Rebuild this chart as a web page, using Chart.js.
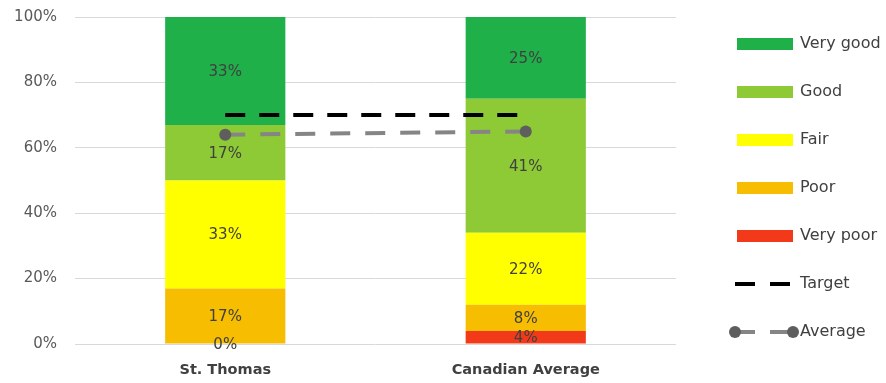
<!DOCTYPE html>
<html>
<head>
<meta charset="utf-8">
<script src="https://cdn.jsdelivr.net/npm/chart.js@4.4.1/dist/chart.umd.min.js"></script>
<style>
  html, body { margin: 0; padding: 0; background: #fff; }
  #wrap { width: 886px; height: 383px; }
</style>
</head>
<body>
<div id="wrap"><canvas id="ratingChart" width="886" height="383"></canvas></div>
<script>
// Rating shares per location (percent)
const categories = ['St. Thomas', 'Canadian Average'];
const veryPoor = [0, 4];
const poor = [17, 8];
const fair = [33, 22];
const good = [17, 41];
const veryGood = [33, 25];
const target = [70, 70];
const average = [64, 65];
const yTicks = [0, 20, 40, 60, 80, 100];

const FONT = '"DejaVu Sans", sans-serif';
const TEXT = '#404040';

const barSeries = [
  { label: 'Very poor', data: veryPoor, color: '#f23a1b' },
  { label: 'Poor', data: poor, color: '#f7bd00' },
  { label: 'Fair', data: fair, color: '#ffff00' },
  { label: 'Good', data: good, color: '#8dca36' },
  { label: 'Very good', data: veryGood, color: '#1fb04a' }
];

const lineDatasets = [
  {
    type: 'line',
    label: 'Target',
    data: target,
    stack: 'target',
    borderColor: '#000000',
    borderWidth: 4,
    borderDash: [20, 14],
    pointRadius: 0,
    fill: false,
    order: 0
  },
  {
    type: 'line',
    label: 'Average',
    data: average,
    stack: 'average',
    borderColor: '#858585',
    borderWidth: 4,
    borderDash: [20, 15],
    pointRadius: 6,
    pointBackgroundColor: '#5e5e5e',
    pointBorderColor: '#5e5e5e',
    pointBorderWidth: 0,
    fill: false,
    order: 0
  }
];

const barDatasets = barSeries.map(s => ({
  type: 'bar',
  label: s.label,
  data: s.data,
  backgroundColor: s.color,
  borderWidth: 0,
  barPercentage: 0.8,
  categoryPercentage: 0.5,
  stack: 'ratings',
  order: 1
}));

// Percent labels in the middle of each bar segment
const segmentLabels = {
  id: 'segmentLabels',
  afterDatasetsDraw(chart) {
    const c = chart.ctx;
    c.save();
    c.font = '15px ' + FONT;
    c.fillStyle = TEXT;
    c.textAlign = 'center';
    c.textBaseline = 'middle';
    chart.data.datasets.forEach((ds, i) => {
      if (ds.type !== 'bar') return;
      chart.getDatasetMeta(i).data.forEach((bar, j) => {
        const y = (bar.y + bar.base) / 2;
        c.fillText(ds.data[j] + '%', bar.x, y + 1);
      });
    });
    c.restore();
  }
};

// Legend column on the right side
const sideLegend = {
  id: 'sideLegend',
  afterDraw(chart) {
    const c = chart.ctx;
    const x0 = chart.chartArea.right + 61;
    const items = barDatasets.slice().reverse().concat(lineDatasets);
    c.save();
    c.font = '16px ' + FONT;
    c.textBaseline = 'middle';
    items.forEach((ds, k) => {
      const y = 44 + k * 48;
      if (ds.type === 'bar') {
        c.fillStyle = ds.backgroundColor;
        c.fillRect(x0, y - 6, 56, 12);
      } else if (ds.label === 'Target') {
        c.strokeStyle = ds.borderColor;
        c.lineWidth = 4;
        c.setLineDash([20, 15]);
        c.beginPath();
        c.moveTo(x0 - 2, y);
        c.lineTo(x0 + 53, y);
        c.stroke();
      } else {
        c.strokeStyle = ds.borderColor;
        c.lineWidth = 4;
        c.setLineDash([20, 15]);
        c.beginPath();
        c.moveTo(x0 - 2, y);
        c.lineTo(x0 + 56, y);
        c.stroke();
        c.setLineDash([]);
        c.fillStyle = ds.pointBackgroundColor;
        [x0 - 2, x0 + 56].forEach(px => {
          c.beginPath();
          c.arc(px, y, 6, 0, Math.PI * 2);
          c.fill();
        });
      }
      c.setLineDash([]);
      c.fillStyle = TEXT;
      c.fillText(ds.label, x0 + 63, y);
    });
    c.restore();
  }
};

new Chart(document.getElementById('ratingChart'), {
  data: {
    labels: categories,
    datasets: lineDatasets.concat(barDatasets)
  },
  options: {
    responsive: false,
    animation: false,
    layout: { padding: { top: 17, right: 210, left: 0, bottom: 0 } },
    plugins: {
      legend: { display: false },
      tooltip: { enabled: false }
    },
    scales: {
      x: {
        stacked: true,
        grid: { display: false },
        border: { display: false },
        ticks: {
          padding: 10,
          color: TEXT,
          font: { family: FONT, size: 14.5, weight: 'bold' }
        },
        afterFit(scale) { scale.height = 39; }
      },
      y: {
        stacked: true,
        min: yTicks[0],
        max: yTicks[yTicks.length - 1],
        grid: { color: '#d9d9d9', lineWidth: 1, drawTicks: false },
        border: { display: false },
        afterBuildTicks(scale) {
          scale.ticks = yTicks.map(v => ({ value: v }));
        },
        ticks: {
          padding: 18,
          color: '#595959',
          font: { family: FONT, size: 15 },
          callback: v => v + '%'
        },
        afterFit(scale) {
          scale.width = 75;
          scale.paddingTop = 0;
          scale.paddingBottom = 0;
        }
      }
    }
  },
  plugins: [segmentLabels, sideLegend]
});
</script>
</body>
</html>
